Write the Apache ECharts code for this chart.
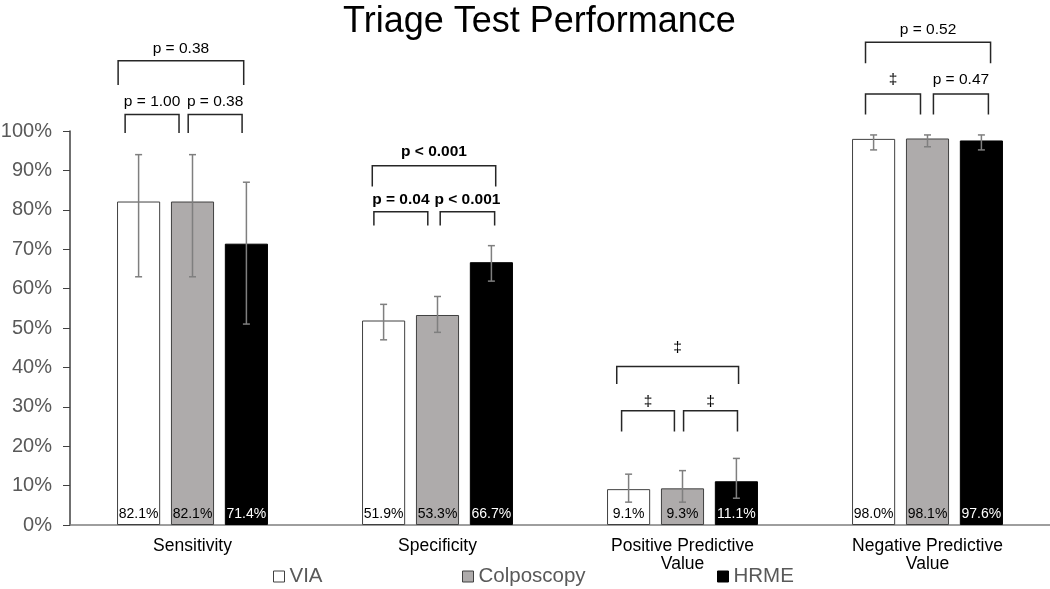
<!DOCTYPE html>
<html>
<head>
<meta charset="utf-8">
<script src="https://cdn.jsdelivr.net/npm/echarts@6/dist/echarts.min.js"></script>
<style>html,body{margin:0;padding:0;background:#fff;}#c{width:1050px;height:589px;}</style>
</head>
<body>
<div id="c"></div>
<script>
// ---- data ----
const categories = ['Sensitivity', 'Specificity', 'Positive Predictive\nValue', 'Negative Predictive\nValue'];
const seriesNames = ['VIA', 'Colposcopy', 'HRME'];
const viaValues  = [82.1, 51.9, 9.1, 98.0];
const colpValues = [82.1, 53.3, 9.3, 98.1];
const hrmeValues = [71.4, 66.7, 11.1, 97.6];
const viaLow   = [63.0, 47.0, 5.8, 95.2];
const viaHigh  = [94.0, 56.0, 12.9, 99.0];
const colpLow  = [63.0, 48.9, 5.8, 96.0];
const colpHigh = [94.0, 58.0, 13.8, 99.0];
const hrmeLow  = [51.0, 61.9, 6.8, 95.2];
const hrmeHigh = [87.0, 70.9, 16.9, 99.0];
const yTicks = [0, 10, 20, 30, 40, 50, 60, 70, 80, 90, 100];
// significance brackets: category, from/to (in bar-slot units from group centre), bracket level, leg end, label level, text
const bracketCat   = [0, 0, 0, 1, 1, 1, 2, 2, 2, 3, 3, 3];
const bracketFrom  = [-1.38, -1.25, -0.08, -1.21, -1.18, 0.05, -1.22, -1.13, 0.02, -1.15, -1.15, 0.11];
const bracketTo    = [0.95, -0.25, 0.92, 1.08, -0.18, 1.06, 1.04, -0.15, 1.02, 1.17, -0.13, 1.13];
const bracketLevel = [117.8, 104.2, 104.2, 91.2, 79.5, 79.5, 40.2, 29.0, 29.0, 122.5, 109.4, 109.4];
const bracketLeg   = [111.7, 99.5, 99.5, 85.9, 76.0, 76.0, 35.8, 23.7, 23.7, 117.2, 104.2, 104.2];
const bracketLabelY = [120.8, 107.5, 107.5, 94.7, 82.5, 82.5, 44.9, 31.3, 31.3, 125.6, 112.9, 112.9];
const bracketText  = ['p = 0.38', 'p = 1.00', 'p = 0.38', 'p < 0.001', 'p = 0.04', 'p < 0.001', '‡', '‡', '‡', 'p = 0.52', '‡', 'p = 0.47'];
const bracketBold  = [false, false, false, true, true, true, false, false, false, false, false, false];

// ---- chart ----
const FONT = '"Liberation Sans", Arial, sans-serif';
const values = [viaValues, colpValues, hrmeValues];
const lows = [viaLow, colpLow, hrmeLow];
const highs = [viaHigh, colpHigh, hrmeHigh];
const fills = ['#ffffff', '#aeabab', '#000000'];
const borders = ['#404040', '#404040', '#000000'];
const labelColors = ['#000000', '#000000', '#ffffff'];
const BAR_FRAC = 0.176, GAP_FRAC = 0.25;
const SLOT_FRAC = BAR_FRAC * (1 + GAP_FRAC);

const errData = [];
for (let s = 0; s < 3; s++) for (let c = 0; c < categories.length; c++) errData.push([c, s, lows[s][c], highs[s][c]]);
const brData = bracketCat.map((c, i) => [c, bracketFrom[i], bracketTo[i], bracketLevel[i], bracketLeg[i], bracketLabelY[i]]);

function bandW(api) { return api.coord([1, 0])[0] - api.coord([0, 0])[0]; }

const barSeries = seriesNames.map((n, s) => ({
  name: n, type: 'bar', data: values[s],
  barWidth: (BAR_FRAC * 100) + '%', barGap: (GAP_FRAC * 100) + '%',
  itemStyle: { color: fills[s], borderColor: borders[s], borderWidth: 1 },
  label: { show: true, position: 'insideBottom', distance: 4, fontFamily: FONT, fontSize: 14,
    color: labelColors[s], formatter: p => p.value.toFixed(1) + '%' },
  emphasis: { disabled: true }, z: 2
}));

const option = {
  animation: false,
  backgroundColor: '#fff',
  title: { text: 'Triage Test Performance', left: 343, top: 4, padding: 0,
    textStyle: { fontFamily: FONT, fontSize: 36, fontWeight: 'normal', color: '#000' } },
  legend: seriesNames.map((n, s) => ({
    left: [273, 462, 717][s], top: 566, padding: 0, itemWidth: 11, itemHeight: 11, icon: 'rect',
    textStyle: { fontFamily: FONT, fontSize: 20.5, color: '#595959' },
    data: [{ name: n, itemStyle: { color: fills[s], borderColor: borders[s], borderWidth: 1 } }],
    selectedMode: false
  })),
  grid: { left: 70, right: 0, top: 131, bottom: 64, containLabel: false, outerBoundsMode: 'none' },
  xAxis: {
    type: 'category', data: categories,
    axisLine: { lineStyle: { color: '#7f7f7f', width: 1.5 } },
    axisTick: { show: false },
    axisLabel: { fontFamily: FONT, fontSize: 17.5, color: '#000', margin: 12, lineHeight: 18, interval: 0 }
  },
  yAxis: {
    type: 'value', min: 0, max: 100, interval: 10,
    axisLine: { show: true, lineStyle: { color: '#404040', width: 1.5 } },
    axisTick: { show: true, length: 7, lineStyle: { color: '#404040' } },
    splitLine: { show: false },
    axisLabel: { fontFamily: FONT, fontSize: 20, color: '#595959', margin: 18,
      formatter: v => (yTicks.indexOf(v) >= 0 ? v + '%' : '') }
  },
  series: barSeries.concat([
    {
      type: 'custom', name: 'errors', data: errData, z: 5, silent: true,
      encode: { x: 0, y: 3 },
      renderItem: function (params, api) {
        const c = api.value(0), s = api.value(1);
        const slot = bandW(api) * SLOT_FRAC;
        const x = api.coord([c, 0])[0] + (s - 1) * slot;
        const yl = api.coord([c, api.value(2)])[1];
        const yh = api.coord([c, api.value(3)])[1];
        const st = { stroke: '#7f7f7f', lineWidth: 1.5 };
        const cap = 3.5;
        return { type: 'group', children: [
          { type: 'line', shape: { x1: x, y1: yl, x2: x, y2: yh }, style: st },
          { type: 'line', shape: { x1: x - cap, y1: yl, x2: x + cap, y2: yl }, style: st },
          { type: 'line', shape: { x1: x - cap, y1: yh, x2: x + cap, y2: yh }, style: st }
        ] };
      }
    },
    {
      type: 'custom', name: 'brackets', data: brData, z: 6, silent: true, clip: false,
      encode: { x: 0, y: 3 },
      renderItem: function (params, api) {
        const i = params.dataIndex;
        const c = api.value(0);
        const slot = bandW(api) * SLOT_FRAC;
        const cx = api.coord([c, 0])[0];
        const x1 = cx + api.value(1) * slot, x2 = cx + api.value(2) * slot;
        const y = api.coord([c, api.value(3)])[1];
        const yleg = api.coord([c, api.value(4)])[1];
        const ylab = api.coord([c, api.value(5)])[1];
        const st = { stroke: '#262626', lineWidth: 1.5, fill: null };
        return { type: 'group', children: [
          { type: 'polyline', shape: { points: [[x1, yleg], [x1, y], [x2, y], [x2, yleg]] }, style: st },
          { type: 'text', x: (x1 + x2) / 2, y: ylab,
            style: { text: bracketText[i], textAlign: 'center', textVerticalAlign: 'middle',
              font: (bracketBold[i] ? 'bold ' : '') + '15.5px ' + FONT, fill: '#000' } }
        ] };
      }
    }
  ])
};

const chart = echarts.init(document.getElementById('c'), null, { renderer: 'canvas' });
chart.setOption(option);
</script>
</body>
</html>
